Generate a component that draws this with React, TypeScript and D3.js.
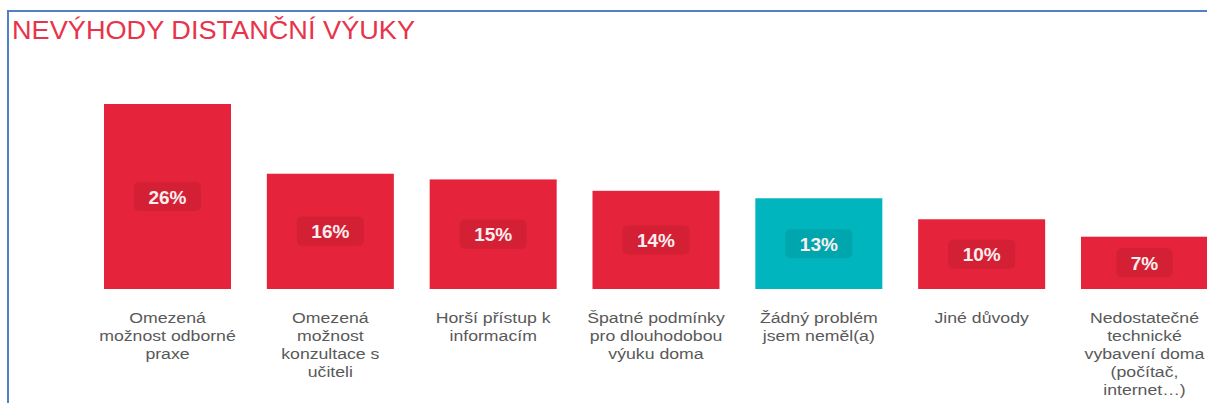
import React from "react";
import * as d3 from "d3";

const title = "NEVÝHODY DISTANČNÍ VÝUKY";
const categories = [
  "Omezená možnost odborné praxe",
  "Omezená možnost konzultace s učiteli",
  "Horší přístup k informacím",
  "Špatné podmínky pro dlouhodobou výuku doma",
  "Žádný problém jsem neměl(a)",
  "Jiné důvody",
  "Nedostatečné technické vybavení doma (počítač, internet…)",
];
const categoryLines = [
  ["Omezená", "možnost odborné", "praxe"],
  ["Omezená", "možnost", "konzultace s", "učiteli"],
  ["Horší přístup k", "informacím"],
  ["Špatné podmínky", "pro dlouhodobou", "výuku doma"],
  ["Žádný problém", "jsem neměl(a)"],
  ["Jiné důvody"],
  ["Nedostatečné", "technické", "vybavení doma", "(počítač,", "internet…)"],
];
const values = [26, 16.2, 15.4, 13.8, 12.75, 9.8, 7.35];
const highlight = [false, false, false, false, true, false, false];

const W = 1207;
const H = 403;
const RED = "#e5233a";
const TEAL = "#00b5bd";
const FRAME = "#4f81c4";

export default function App() {
  const x = d3
    .scaleBand<string>()
    .domain(categories)
    .range([104, 1208])
    .paddingInner(0.22)
    .paddingOuter(0);
  const y = d3.scaleLinear().domain([0, 26]).range([289, 104]);
  const bw = x.bandwidth();
  const font = "'Liberation Sans', Arial, sans-serif";

  return (
    <svg
      width={W}
      height={H}
      style={{ position: "absolute", left: 0, top: 0, background: "#fff" }}
      fontFamily={font}
    >
      <rect x={0} y={0} width={W} height={H} fill="#fff" />
      <line x1={8} x2={W} y1={11} y2={11} stroke={FRAME} strokeWidth={2} />
      <line x1={8} x2={8} y1={10} y2={H} stroke={FRAME} strokeWidth={2} />
      <text
        transform="translate(12,38.5) scale(1.086,1)"
        fontSize={25}
        fill="#e8334a"
      >
        {title}
      </text>
      {categories.map((c, i) => {
        const x0 = x(c)!;
        const v = values[i];
        const top = y(v);
        const bottom = y(0);
        const cx = x0 + bw / 2;
        const cy = (top + bottom) / 2;
        const label = `${Math.round(v)}%`;
        const tw = label.length === 2 ? 29 : 40;
        const bwid = tw + 27;
        return (
          <g key={c}>
            <rect
              x={x0}
              y={top}
              width={bw}
              height={bottom - top}
              fill={highlight[i] ? TEAL : RED}
            />
            <rect
              x={cx - bwid / 2}
              y={cy - 14.5}
              width={bwid}
              height={29}
              rx={5}
              fill="rgba(0,0,0,0.08)"
            />
            <text
              x={cx}
              y={cy + 7}
              textAnchor="middle"
              fontSize={19}
              fontWeight={600}
              fill="#fbeeee"
            >
              {label}
            </text>
            <text
              transform={`translate(${cx},${bottom + 34}) scale(1.22,1)`}
              textAnchor="middle"
              fontSize={14.5}
              fill="#595959"
            >
              {categoryLines[i].map((ln, j) => (
                <tspan key={j} x={0} dy={j === 0 ? 0 : 18}>
                  {ln}
                </tspan>
              ))}
            </text>
          </g>
        );
      })}
    </svg>
  );
}
